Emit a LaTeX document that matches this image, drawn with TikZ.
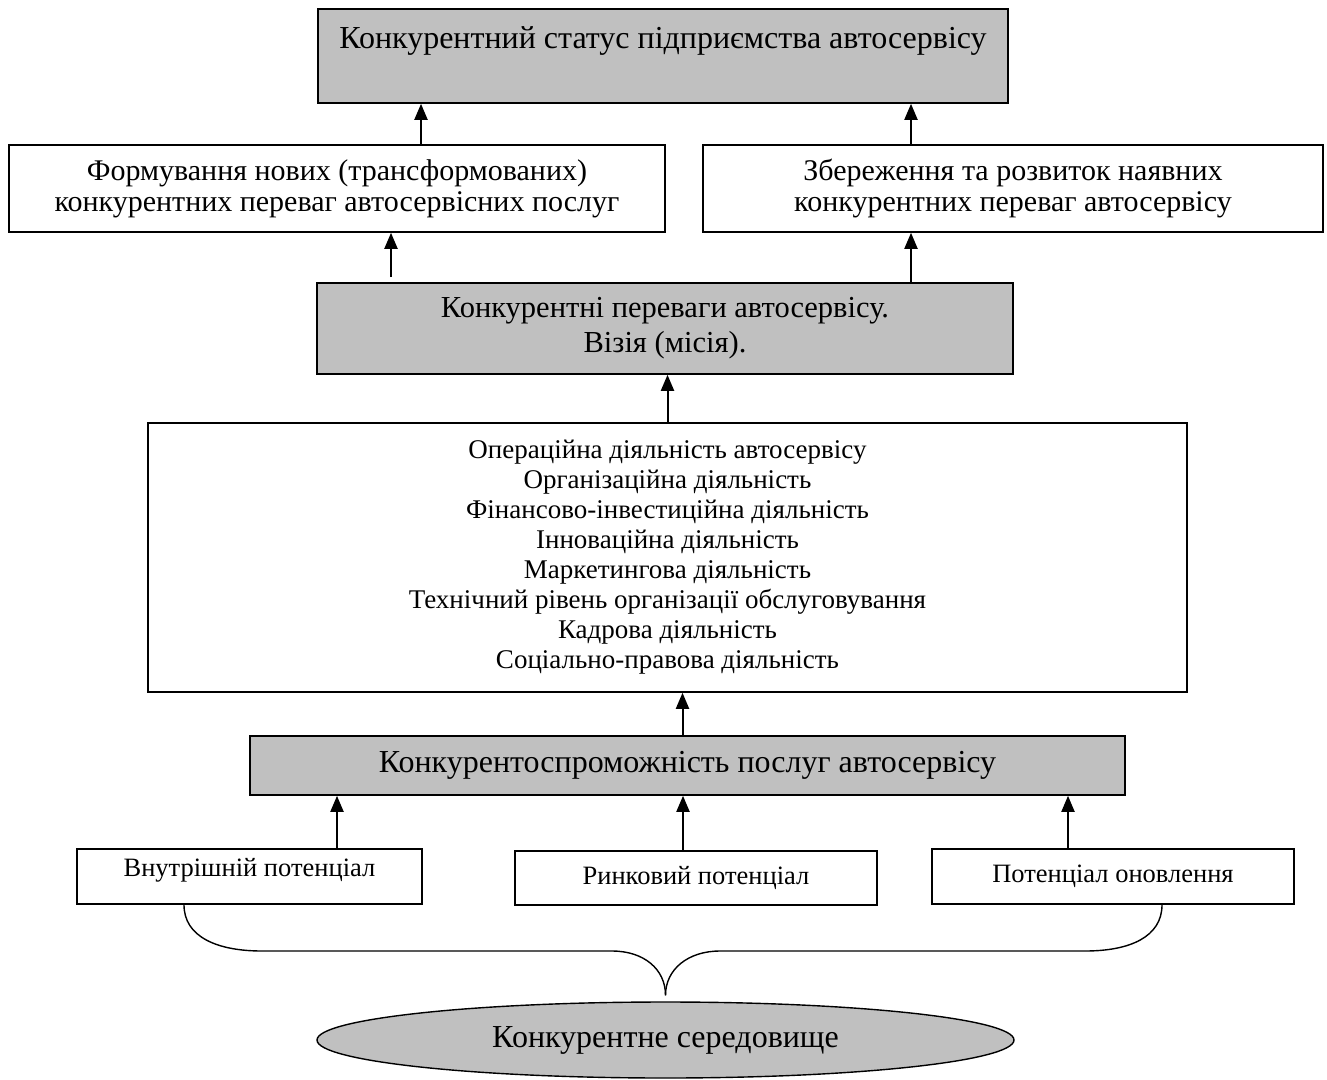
\documentclass[tikz,border=0pt]{standalone}
\usepackage{fontspec}
\setmainfont{Liberation Serif}
\usetikzlibrary{arrows.meta,shapes.geometric}
\definecolor{boxgray}{HTML}{C0C0C0}

\begin{document}
\begin{tikzpicture}[
	x=1pt, y=-1pt,
	box/.style={draw, line width=1.6pt, inner sep=0pt, align=center},
	graybox/.style={box, fill=boxgray},
	whitebox/.style={box, fill=white},
	bigtext/.style={font=\fontsize{32}{35}\selectfont},
	midtext/.style={font=\fontsize{30.5}{35}\selectfont},
	rowtext/.style={font=\fontsize{30}{31}\selectfont},
	listtext/.style={font=\fontsize{27}{30}\selectfont},
	smalltext/.style={font=\fontsize{26.5}{30}\selectfont},
	link/.style={line width=2pt, -{Triangle[length=16pt,width=13pt]}},
	brace/.style={line width=1.4pt}]
\useasboundingbox (0,0) rectangle (1327,1079);

\node[graybox, bigtext, minimum width=690, minimum height=94, text height=22pt, text depth=38pt] (status) at (663,56) {Конкурентний статус підприємства автосервісу};
\node[whitebox, rowtext, minimum width=656, minimum height=87] (newadv) at (337,188.5) {Формування нових (трансформованих)\\конкурентних переваг автосервісних послуг};
\node[whitebox, rowtext, minimum width=620, minimum height=87] (keepadv) at (1013,188.5) {Збереження та розвиток наявних\\конкурентних переваг автосервісу};
\node[graybox, midtext, minimum width=696, minimum height=91] (advantages) at (665,328.5) {Конкурентні переваги автосервісу.\\Візія (місія).};
\node[whitebox, listtext, minimum width=1039, minimum height=269] (activities) at (667.5,557.5) {Операційна діяльність автосервісу\\
	Організаційна діяльність\\
	Фінансово-інвестиційна діяльність\\
	Інноваційна діяльність\\
	Маркетингова діяльність\\
	Технічний рівень організації обслуговування\\
	Кадрова діяльність\\
	Соціально-правова діяльність};
\node[graybox, bigtext, minimum width=875, minimum height=59] (competit) at (687.5,765.5) {Конкурентоспроможність послуг автосервісу};
\node[whitebox, smalltext, minimum width=345, minimum height=55, text height=18pt, text depth=18pt] (internal) at (249.5,876.5) {Внутрішній потенціал};
\node[whitebox, smalltext, minimum width=362, minimum height=54] (market) at (696,878) {Ринковий потенціал};
\node[whitebox, smalltext, minimum width=362, minimum height=55] (renewal) at (1113,876.5) {Потенціал оновлення};
\node[ellipse, draw, fill=boxgray, line width=1.4pt, inner sep=0pt, bigtext, minimum width=697, minimum height=76] (environment) at (665.5,1040) {Конкурентне середовище};
\coordinate (cusp) at ([yshift=6pt]environment.north);

\draw[link] ([xshift=84pt]newadv.north) -- ([xshift=84pt]newadv.north |- status.south);
\draw[link] ([xshift=-102pt]keepadv.north) -- ([xshift=-102pt]keepadv.north |- status.south);
\draw[link, shorten <=5pt] ([xshift=-274pt]advantages.north) -- ([xshift=-274pt]advantages.north |- newadv.south);
\draw[link] ([xshift=246pt]advantages.north) -- ([xshift=246pt]advantages.north |- keepadv.south);
\draw[link] (activities.north) -- (activities.north |- advantages.south);
\draw[link] ([xshift=-5pt]competit.north) -- ([xshift=-5pt]competit.north |- activities.south);
\draw[link] ([xshift=87.5pt]internal.north) -- ([xshift=87.5pt]internal.north |- competit.south);
\draw[link] ([xshift=-13pt]market.north) -- ([xshift=-13pt]market.north |- competit.south);
\draw[link] ([xshift=-45pt]renewal.north) -- ([xshift=-45pt]renewal.north |- competit.south);

\draw[brace] ([xshift=-65.5pt]internal.south) .. controls +(0,32) and +(-45,0) .. (262,951) -- (612,951) .. controls +(32,0) and +(0,-26) .. (cusp);
\draw[brace] ([xshift=49pt]renewal.south) .. controls +(0,32) and +(45,0) .. (1085,951) -- (720,951) .. controls +(-32,0) and +(0,-26) .. (cusp);
\end{tikzpicture}
\end{document}
